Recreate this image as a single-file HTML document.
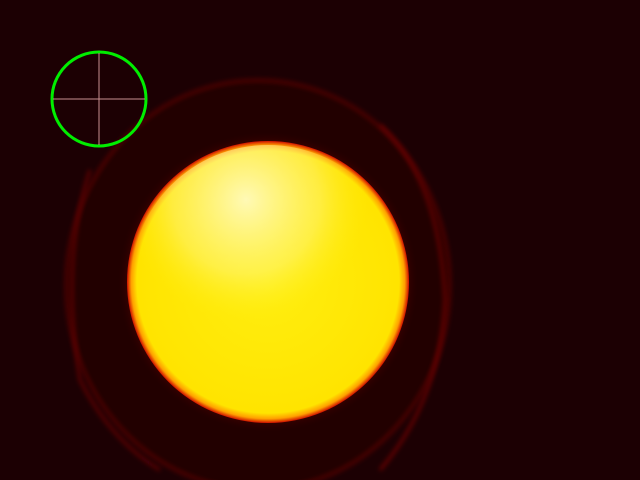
<!DOCTYPE html>
<html><head><meta charset="utf-8"><style>
html,body{margin:0;padding:0;background:#1a0002;width:640px;height:480px;overflow:hidden;}
svg{display:block}
</style></head><body>
<svg width="640" height="480" viewBox="0 0 640 480">
<defs>
<radialGradient id="disk" cx="0.5" cy="0.5" r="0.5">
<stop offset="0" stop-color="#ffee10"/>
<stop offset="0.93" stop-color="#ffe400"/>
<stop offset="0.97" stop-color="#ffa000"/>
<stop offset="1" stop-color="#d01000"/>
</radialGradient>
<radialGradient id="hot" cx="0.42" cy="0.2" r="0.45">
<stop offset="0" stop-color="#fffff0" stop-opacity="0.75"/>
<stop offset="0.6" stop-color="#fffab0" stop-opacity="0.35"/>
<stop offset="1" stop-color="#fff000" stop-opacity="0"/>
</radialGradient>
<radialGradient id="glow" cx="0.5" cy="0.5" r="0.5">
<stop offset="0.85" stop-color="#ff1000" stop-opacity="0.4"/>
<stop offset="1" stop-color="#400000" stop-opacity="0"/>
</radialGradient>
<filter id="blur"><feGaussianBlur stdDeviation="2.5"/></filter>
</defs>
<rect width="640" height="480" fill="#1c0003"/>
<ellipse cx="258" cy="285" rx="192" ry="205" fill="#220003" stroke="#500006" stroke-width="3" filter="url(#blur)"/>
<path d="M380 125 Q440 180 445 300 Q440 400 380 470" stroke="#6a0008" stroke-width="3" fill="none" filter="url(#blur)"/>
<path d="M90 170 Q60 260 80 380 Q110 440 160 470" stroke="#600008" stroke-width="3" fill="none" filter="url(#blur)"/>
<circle cx="268" cy="282" r="150" fill="url(#glow)"/>
<circle cx="268" cy="282" r="141" fill="url(#disk)"/>
<circle cx="268" cy="282" r="137" fill="url(#hot)"/>
<g>
<circle cx="99" cy="99" r="47" fill="none" stroke="#00ee00" stroke-width="3"/>
<line x1="53" y1="99" x2="145" y2="99" stroke="#c89090" stroke-width="1"/>
<line x1="99" y1="53" x2="99" y2="145" stroke="#c89090" stroke-width="1"/>
</g>
</svg>
</body></html>
